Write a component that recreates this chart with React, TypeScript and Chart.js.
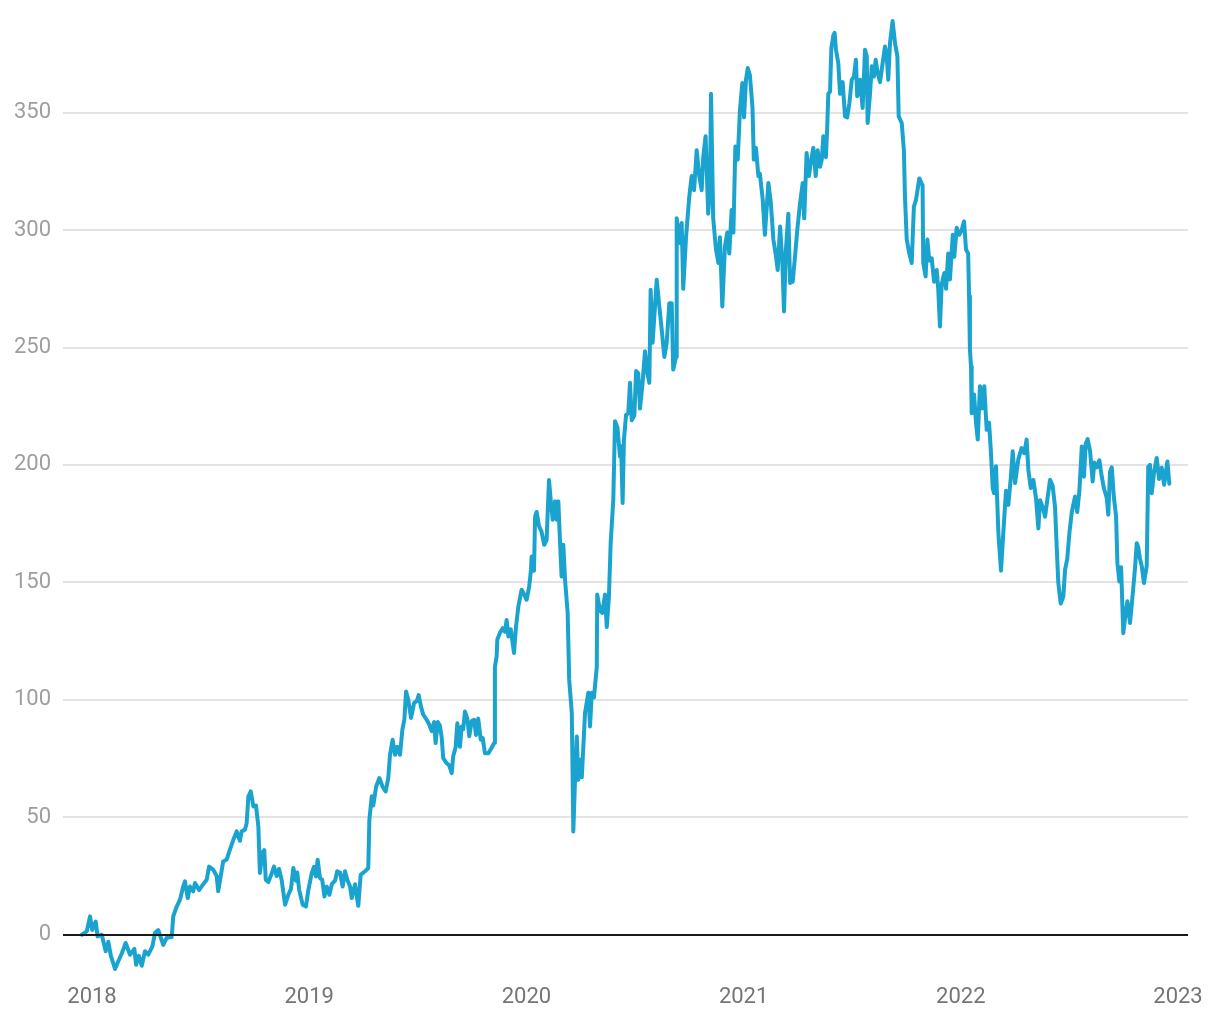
import React, { useEffect, useRef } from "react";
import { Chart, registerables } from "chart.js";

Chart.register(...registerables);

// [decimal year, value]
const series2018: [number, number][] = [
  [2017.953, 0], [2017.976, 1.4], [2017.991, 7.8], [2018.001, 2], [2018.017, 5.6], [2018.026, -0.7],
  [2018.045, 0], [2018.063, -7], [2018.075, -3], [2018.087, -9], [2018.106, -14.6], [2018.121, -11.3],
  [2018.137, -8], [2018.155, -3.5], [2018.175, -8.5], [2018.195, -6], [2018.203, -12.8], [2018.216, -9],
  [2018.229, -13.2], [2018.244, -7], [2018.259, -8.5], [2018.278, -5], [2018.290, 0.7], [2018.305, 2],
  [2018.318, -1.5], [2018.328, -4.3], [2018.344, -1.3], [2018.367, -1], [2018.374, 7.8], [2018.390, 12],
  [2018.405, 14.9], [2018.420, 20.5], [2018.428, 22.7], [2018.441, 15.6], [2018.451, 20.5], [2018.466, 18.5],
  [2018.474, 22], [2018.493, 19], [2018.512, 21.5], [2018.528, 23.4], [2018.539, 29], [2018.558, 27.7],
  [2018.574, 25], [2018.581, 18.5], [2018.604, 31.2], [2018.620, 32], [2018.635, 36.2], [2018.651, 40.5],
  [2018.666, 44], [2018.681, 40], [2018.689, 44], [2018.704, 44.7], [2018.712, 47.5], [2018.720, 58.9],
  [2018.731, 61], [2018.743, 54.6], [2018.755, 55], [2018.766, 46], [2018.773, 26.3], [2018.784, 34.8],
  [2018.793, 36], [2018.800, 23.4], [2018.812, 22.4], [2018.827, 26], [2018.838, 29], [2018.850, 25],
  [2018.861, 28], [2018.873, 23.4], [2018.889, 12.8], [2018.904, 17], [2018.916, 19.5], [2018.927, 28.4],
  [2018.939, 23], [2018.945, 26.5], [2018.954, 19], [2018.970, 12.8], [2018.985, 12], [2018.996, 19],
];

const series2019: [number, number][] = [
  [2019.012, 26.3], [2019.022, 28.9], [2019.031, 24.8], [2019.039, 31.9], [2019.050, 24], [2019.060, 23.4],
  [2019.070, 16.3], [2019.081, 20.5], [2019.093, 17], [2019.104, 21.5], [2019.119, 23], [2019.129, 27],
  [2019.142, 26.5], [2019.154, 20.5], [2019.165, 27], [2019.175, 23.5], [2019.188, 20.5], [2019.196, 15.6],
  [2019.211, 21.5], [2019.226, 12.3], [2019.237, 25.5], [2019.257, 27], [2019.272, 28.4], [2019.277, 49],
  [2019.288, 59], [2019.295, 55], [2019.308, 63], [2019.323, 66.7], [2019.338, 63], [2019.352, 61],
  [2019.364, 66.7], [2019.372, 76.6], [2019.384, 83], [2019.395, 76.6], [2019.406, 80], [2019.418, 76.6],
  [2019.429, 87.3], [2019.438, 91.5], [2019.446, 103.6], [2019.456, 100], [2019.469, 92.3], [2019.483, 98.7],
  [2019.495, 99.5], [2019.504, 102], [2019.515, 97], [2019.525, 93.7], [2019.541, 91.5], [2019.553, 89.4],
  [2019.564, 86.7], [2019.575, 90.6], [2019.582, 81.6], [2019.592, 90.6], [2019.602, 89], [2019.610, 84],
  [2019.617, 75.2], [2019.633, 73], [2019.645, 72], [2019.656, 68.8], [2019.663, 76], [2019.674, 79.7],
  [2019.682, 90], [2019.694, 80], [2019.702, 88.7], [2019.709, 87.5], [2019.717, 95], [2019.728, 92],
  [2019.737, 84.5], [2019.748, 91], [2019.759, 91.5], [2019.768, 85], [2019.778, 92], [2019.790, 83],
  [2019.799, 83.7], [2019.809, 77.3], [2019.825, 77.3], [2019.840, 79.6], [2019.851, 81.6], [2019.855, 114],
  [2019.863, 118.5], [2019.866, 125.6], [2019.878, 128.5], [2019.891, 130.5], [2019.901, 129], [2019.909, 134],
  [2019.917, 127], [2019.928, 130], [2019.943, 120], [2019.952, 131], [2019.963, 139.8], [2019.978, 146.9],
  [2019.989, 145],
];

const series2020: [number, number][] = [
  [2020.001, 142.6], [2020.013, 148.3], [2020.021, 155.4], [2020.024, 161], [2020.035, 155], [2020.040, 178],
  [2020.047, 180], [2020.058, 174], [2020.070, 171.5], [2020.082, 166], [2020.093, 168], [2020.104, 193.6],
  [2020.112, 185], [2020.121, 176.7], [2020.132, 184.5], [2020.139, 176.7], [2020.147, 184.5], [2020.155, 166.8],
  [2020.162, 152.5], [2020.170, 166], [2020.178, 151], [2020.190, 137], [2020.197, 108.6], [2020.209, 94.5],
  [2020.216, 44], [2020.224, 66], [2020.232, 84.4], [2020.239, 66], [2020.247, 74.5], [2020.255, 67],
  [2020.270, 94.5], [2020.285, 103], [2020.293, 88.7], [2020.301, 103], [2020.311, 101], [2020.324, 114],
  [2020.326, 144.8], [2020.339, 138], [2020.349, 137], [2020.362, 144.8], [2020.370, 131], [2020.380, 144],
  [2020.388, 166.8], [2020.400, 185], [2020.408, 218.6], [2020.419, 216], [2020.431, 203.6], [2020.436, 208],
  [2020.443, 183.8], [2020.449, 210.8], [2020.459, 221.4], [2020.469, 222], [2020.477, 235], [2020.485, 219],
  [2020.497, 221], [2020.505, 240], [2020.515, 239], [2020.523, 224], [2020.535, 235], [2020.546, 248.4],
  [2020.557, 239], [2020.566, 235], [2020.572, 274.6], [2020.581, 252], [2020.592, 267.5], [2020.600, 278.9],
  [2020.612, 267.5], [2020.623, 257.6], [2020.635, 246], [2020.646, 252], [2020.658, 268.9], [2020.669, 268.9],
  [2020.676, 240.6], [2020.689, 246], [2020.692, 305], [2020.707, 294.5], [2020.715, 303], [2020.722, 275],
  [2020.735, 297], [2020.750, 314.4], [2020.761, 323], [2020.772, 317], [2020.784, 334], [2020.796, 323],
  [2020.807, 317], [2020.814, 331], [2020.825, 340], [2020.837, 307], [2020.845, 317], [2020.850, 358],
  [2020.860, 305], [2020.873, 291.7], [2020.884, 286], [2020.891, 297], [2020.902, 267.5], [2020.914, 293],
  [2020.925, 299], [2020.934, 290], [2020.945, 308.6], [2020.953, 299], [2020.962, 335.6], [2020.973, 330],
  [2020.983, 351], [2020.994, 362.6],
];

const series2021: [number, number][] = [
  [2021.002, 348], [2021.011, 364], [2021.019, 369], [2021.029, 366], [2021.041, 352], [2021.047, 330],
  [2021.057, 335], [2021.068, 323], [2021.075, 324], [2021.088, 313], [2021.098, 298], [2021.114, 320],
  [2021.125, 312], [2021.137, 296], [2021.149, 289], [2021.157, 283], [2021.168, 301.5], [2021.178, 287],
  [2021.186, 265.4], [2021.195, 292], [2021.206, 307], [2021.214, 277.5], [2021.226, 278], [2021.237, 289],
  [2021.247, 300], [2021.260, 311.5], [2021.272, 320], [2021.279, 305], [2021.290, 332.8], [2021.301, 323],
  [2021.309, 328.5], [2021.321, 335], [2021.332, 323], [2021.341, 334], [2021.352, 327], [2021.360, 330],
  [2021.367, 340], [2021.379, 331], [2021.385, 344], [2021.390, 358], [2021.398, 359], [2021.404, 377.5],
  [2021.413, 382.7], [2021.419, 384], [2021.425, 377], [2021.436, 371], [2021.444, 358], [2021.456, 363],
  [2021.467, 348.4], [2021.477, 348], [2021.487, 354], [2021.498, 364], [2021.508, 365.4], [2021.517, 372.5],
  [2021.523, 357], [2021.536, 364], [2021.548, 352], [2021.559, 376.8], [2021.567, 374], [2021.571, 345.6],
  [2021.582, 358], [2021.590, 369.8], [2021.600, 365.4], [2021.608, 372.5], [2021.617, 367], [2021.628, 363],
  [2021.640, 371], [2021.651, 378.2], [2021.659, 374], [2021.666, 364], [2021.674, 379.7], [2021.686, 389],
  [2021.697, 379.7], [2021.708, 374], [2021.714, 348.4], [2021.728, 345.6], [2021.738, 334], [2021.743, 314],
  [2021.751, 296], [2021.763, 290], [2021.774, 286], [2021.784, 310], [2021.794, 313], [2021.809, 322],
  [2021.824, 319], [2021.827, 286], [2021.838, 280.3], [2021.846, 296], [2021.855, 287], [2021.866, 288],
  [2021.877, 278], [2021.889, 283], [2021.896, 275], [2021.904, 259], [2021.912, 277], [2021.924, 281.7],
  [2021.932, 275], [2021.942, 290], [2021.950, 279], [2021.963, 298], [2021.970, 288.6], [2021.981, 301],
  [2021.993, 298],
];

const series2022: [number, number][] = [
  [2022.004, 300], [2022.015, 303.7], [2022.024, 291.7], [2022.034, 290], [2022.038, 271.8], [2022.042, 249],
  [2022.047, 242], [2022.050, 222], [2022.061, 230], [2022.070, 217.9], [2022.078, 210.8], [2022.088, 233.5],
  [2022.098, 224], [2022.108, 233.5], [2022.119, 215], [2022.130, 218], [2022.138, 206.5], [2022.147, 190],
  [2022.153, 188], [2022.162, 199.5], [2022.173, 171], [2022.185, 155], [2022.196, 171.5], [2022.208, 189],
  [2022.219, 183], [2022.230, 194.4], [2022.239, 205.8], [2022.250, 192.3], [2022.265, 202.5], [2022.280, 207.2],
  [2022.292, 205], [2022.303, 210.8], [2022.311, 198], [2022.322, 190.2], [2022.334, 193.6], [2022.346, 186],
  [2022.357, 173], [2022.365, 185], [2022.377, 182], [2022.388, 178], [2022.398, 185], [2022.411, 193.7],
  [2022.423, 191], [2022.434, 182], [2022.442, 164], [2022.449, 149.7], [2022.460, 141], [2022.472, 144],
  [2022.480, 155.4], [2022.490, 160], [2022.500, 171], [2022.511, 180], [2022.526, 186.6], [2022.536, 180],
  [2022.546, 189], [2022.557, 207.9], [2022.567, 195], [2022.575, 209], [2022.584, 211], [2022.595, 206],
  [2022.607, 193], [2022.615, 201], [2022.626, 199], [2022.638, 202], [2022.649, 195], [2022.659, 190],
  [2022.672, 186], [2022.679, 178.8], [2022.687, 197], [2022.695, 199], [2022.705, 186], [2022.715, 178],
  [2022.721, 158.2], [2022.730, 150.4], [2022.738, 156.5], [2022.748, 128.4], [2022.759, 137], [2022.767, 142],
  [2022.779, 132.7], [2022.791, 144.5], [2022.802, 156.1], [2022.810, 166.7], [2022.817, 165], [2022.825, 160],
  [2022.833, 157], [2022.843, 149.7], [2022.856, 157], [2022.863, 199.3], [2022.871, 200], [2022.879, 188],
  [2022.890, 197], [2022.902, 203], [2022.913, 194], [2022.925, 198.8], [2022.936, 191.6], [2022.945, 197.4],
  [2022.951, 201.5], [2022.960, 192],
];

const yearTicks = [2018, 2019, 2020, 2021, 2022, 2023];
const valueTicks = [0, 50, 100, 150, 200, 250, 300, 350];

const LINE_COLOR = "#1ba3cf";

const zeroLinePlugin = {
  id: "zeroLine",
  afterDatasetsDraw(chart: any) {
    const { ctx, chartArea, scales } = chart;
    const y = Math.round(scales.y.getPixelForValue(0));
    ctx.save();
    ctx.strokeStyle = "#1a1a1a";
    ctx.lineWidth = 2;
    ctx.beginPath();
    ctx.moveTo(chartArea.left, y);
    ctx.lineTo(chartArea.right, y);
    ctx.stroke();
    ctx.restore();
  },
};

export default function App() {
  const ref = useRef<HTMLCanvasElement | null>(null);

  useEffect(() => {
    if (!ref.current) return;
    const points = [...series2018, ...series2019, ...series2020, ...series2021, ...series2022].map(
      ([x, y]) => ({ x, y })
    );
    const chart = new Chart(ref.current, {
      type: "line",
      data: {
        datasets: [
          {
            data: points,
            borderColor: LINE_COLOR,
            borderWidth: 4,
            pointRadius: 0,
            tension: 0,
            borderJoinStyle: "round",
            borderCapStyle: "round",
            fill: false,
          },
        ],
      },
      options: {
        animation: false,
        responsive: false,
        devicePixelRatio: 1,
        layout: { padding: { top: 14, right: 32, left: 0, bottom: 0 } },
        plugins: { legend: { display: false }, tooltip: { enabled: false } },
        scales: {
          x: {
            type: "linear",
            min: 2017.8665,
            max: 2023.046,
            afterBuildTicks: (scale: any) => {
              scale.ticks = yearTicks.map((v) => ({ value: v }));
            },
            afterFit: (scale: any) => {
              scale.height = 43;
            },
            ticks: {
              callback: (v: any) => String(v),
              font: { family: "Roboto", size: 22 },
              color: "#757575",
              padding: 7,
              maxRotation: 0,
              autoSkip: false,
            },
            grid: { display: false, drawTicks: false },
            border: { display: false },
          },
          y: {
            type: "linear",
            min: -18,
            max: 392,
            afterBuildTicks: (scale: any) => {
              scale.ticks = valueTicks.map((v) => ({ value: v }));
            },
            afterFit: (scale: any) => {
              scale.width = 63;
              scale.paddingTop = 0;
              scale.paddingBottom = 0;
            },
            ticks: {
              callback: (v: any) => String(v),
              font: { family: "Roboto", size: 22 },
              color: "#9e9e9e",
              padding: 12,
            },
            grid: {
              color: "#e3e3e3",
              lineWidth: 2,
              drawTicks: false,
            },
            border: { display: false },
          },
        },
      },
      plugins: [zeroLinePlugin],
    });
    return () => chart.destroy();
  }, []);

  return (
    <div style={{ position: "absolute", left: 0, top: 0, width: 1220, height: 1020, background: "#fff" }}>
      <canvas ref={ref} width={1220} height={1020} style={{ display: "block" }} />
    </div>
  );
}
